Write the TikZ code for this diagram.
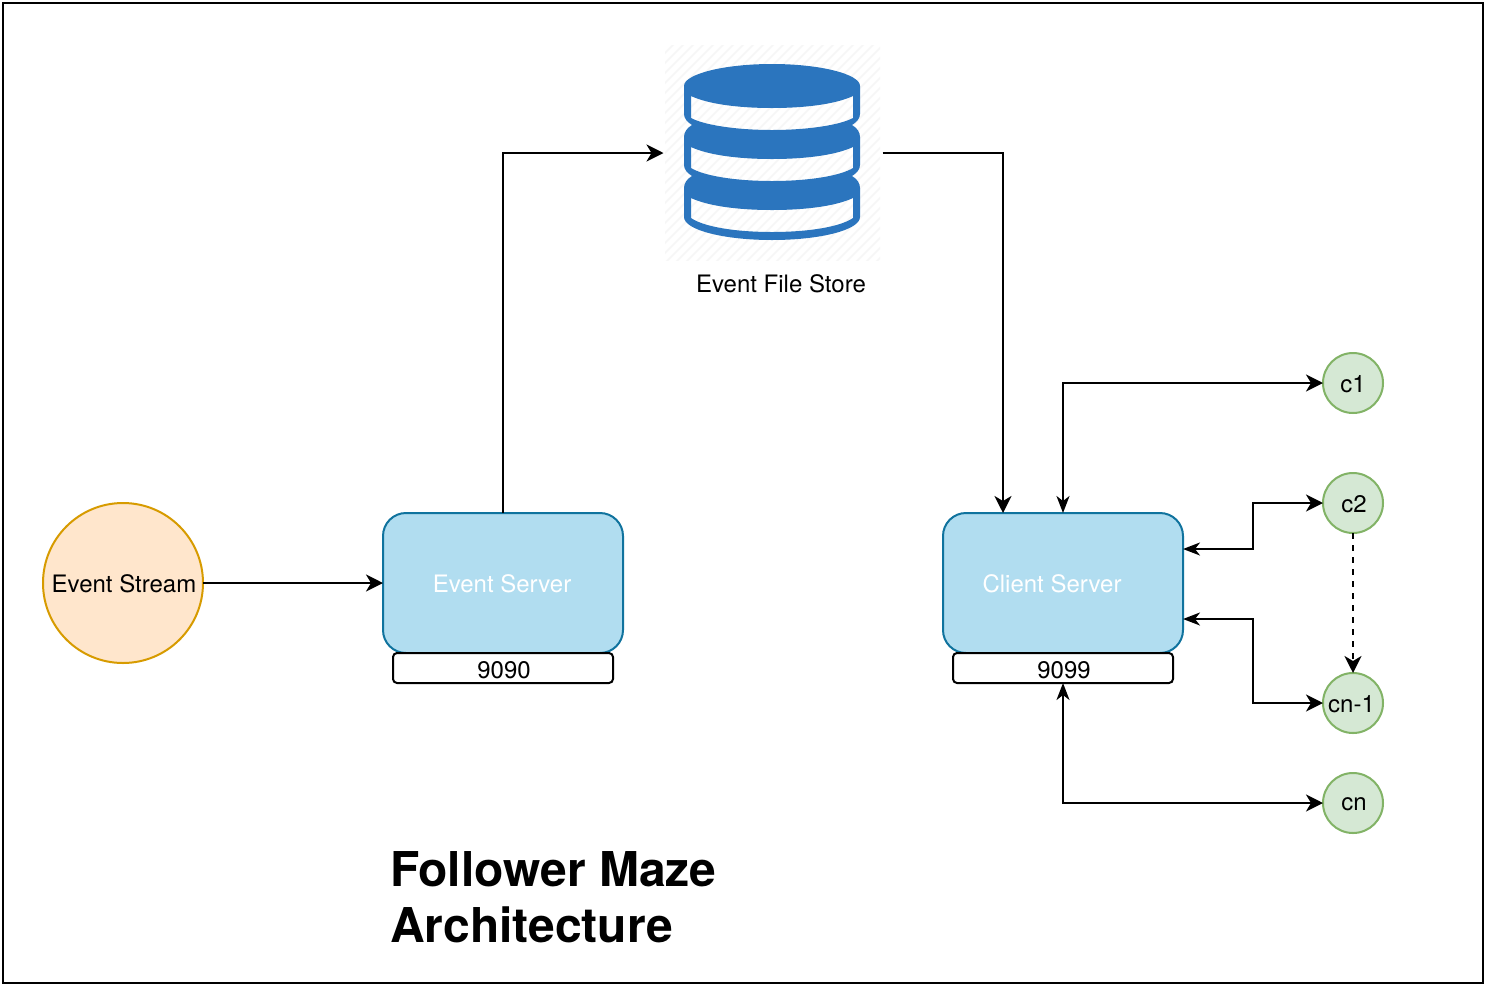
\documentclass[tikz,border=0pt]{standalone}
\usepackage{fontspec}
\setmainfont{TeX Gyre Heros}
\usetikzlibrary{arrows.meta,positioning}
\definecolor{bluefill}{HTML}{B1DDF0}
\definecolor{blueline}{HTML}{10739E}
\definecolor{orangefill}{HTML}{FFE6CC}
\definecolor{orangeline}{HTML}{D79B00}
\definecolor{greenfill}{HTML}{D5E8D4}
\definecolor{greenline}{HTML}{82B366}
\definecolor{dbblue}{HTML}{2B75BE}
\definecolor{hatch}{HTML}{F6F6F6}
\tikzset{
  x=1pt,y=-1pt,
  txt/.style={font=\fontsize{24}{28}\selectfont,text=black,inner sep=0pt,outer sep=0pt},
  server/.style={draw=blueline,fill=bluefill,line width=2pt,rounded corners=23pt,minimum width=240pt,minimum height=140pt,inner sep=0pt,outer sep=0pt},
  port/.style={draw=black,fill=white,line width=2pt,rounded corners=4pt,minimum width=220pt,minimum height=30pt,inner sep=0pt,outer sep=0pt},
  client/.style={circle,draw=greenline,fill=greenfill,line width=2pt,minimum size=60pt,inner sep=0pt,outer sep=0pt},
  conn/.style={draw=black,line width=2pt,-{Stealth[length=17pt,width=17pt,inset=5pt]}},
  biconn/.style={draw=black,line width=2pt,{Stealth[length=17pt,width=13pt,inset=5pt]}-{Stealth[length=17pt,width=17pt,inset=5pt]}},
}
\begin{document}
\begin{tikzpicture}
\useasboundingbox (0,0) rectangle (1486,986);
\fill[white] (0,0) rectangle (1486,986);
\node[draw=black,line width=2pt,minimum width=1480pt,minimum height=980pt,inner sep=0pt,outer sep=0pt] (frame) at (743,493) {};

% database icon
\begin{scope}
\clip (665,45) rectangle (880,260);
\foreach \k in {0,...,44} {
  \draw[hatch,line width=1.6pt] ({664+\k*10},44) -- ({664+\k*10-220},264);
}
\end{scope}
\fill[dbblue,even odd rule]
  (684,86) .. controls (684,74) and (724,64) .. (772,64)
  .. controls (820,64) and (860,74) .. (860,86)
  -- (860,114) .. controls (860,118) and (857,122) .. (852,125)
  .. controls (857,128) and (860,132) .. (860,137)
  -- (860,165) .. controls (860,169) and (857,173) .. (852,176)
  .. controls (857,179) and (860,183) .. (860,188)
  -- (860,217) .. controls (860,230) and (820,240) .. (772,240)
  .. controls (724,240) and (684,230) .. (684,217)
  -- (684,188) .. controls (684,183) and (687,179) .. (692,176)
  .. controls (687,173) and (684,169) .. (684,165)
  -- (684,137) .. controls (684,132) and (687,128) .. (692,125)
  .. controls (687,122) and (684,118) .. (684,114)
  -- cycle
  (691,96) .. controls (708,104) and (738,108) .. (772,108)
  .. controls (806,108) and (836,104) .. (853,96)
  -- (853,118) .. controls (840,125) and (808,130) .. (772,130)
  .. controls (736,130) and (704,125) .. (691,118) -- cycle
  (691,147) .. controls (708,155) and (738,159) .. (772,159)
  .. controls (806,159) and (836,155) .. (853,147)
  -- (853,168) .. controls (840,176) and (808,181) .. (772,181)
  .. controls (736,181) and (704,176) .. (691,168) -- cycle
  (691,198) .. controls (708,206) and (738,210) .. (772,210)
  .. controls (806,210) and (836,206) .. (853,198)
  -- (853,218) .. controls (840,227) and (808,232) .. (772,232)
  .. controls (736,232) and (704,227) .. (691,218) -- cycle;
\node[minimum width=219pt,minimum height=219pt,inner sep=0pt,outer sep=0pt] (db) at (773,153) {};
\node[txt] (dblabel) at (781,284) {Event File Store};

% main nodes
\node[circle,draw=orangeline,fill=orangefill,line width=2pt,minimum size=160pt,inner sep=0pt,outer sep=0pt] (stream) at (123,583) {};
\node[txt] (streamlabel) at (124,584) {Event Stream};
\node[server] (es) at (503,583) {};
\node[txt,text=white] (eslabel) at (502,584) {Event Server};
\node[port] (esport) at (503,668) {};
\node[txt] (esportlabel) at (504,670) {9090};
\node[server] (cs) at (1063,583) {};
\node[txt,text=white] (cslabel) at (1052,584) {Client Server};
\node[port] (csport) at (1063,668) {};
\node[txt] (csportlabel) at (1064,670) {9099};
\node[client] (c1) at (1353,383) {};
\node[txt] (c1label) at (1353,384) {c1};
\node[client] (c2) at (1353,503) {};
\node[txt] (c2label) at (1354,504) {c2};
\node[client] (cn1) at (1353,703) {};
\node[txt] (cn1label) at (1351.5,704) {cn-1};
\node[client] (cn) at (1353,803) {};
\node[txt] (cnlabel) at (1354,804) {cn};

% named ends on the client server
\coordinate (csin) at (1003,513);
\coordinate (csc2) at (1183,549);
\coordinate (cscn1) at (1183,619);

% connectors
\draw[conn] (stream.east) -- (es.west);
\draw[conn] (es.north) |- (db.west);
\draw[conn] (db.east) -| (csin);
\draw[biconn] (cs.north) |- (c1.west);
\draw[biconn] (csc2) -- ++(70,0) |- (c2.west);
\draw[biconn] (cscn1) -- ++(70,0) |- (cn1.west);
\draw[biconn] (csport.south) |- (cn.west);
\draw[conn,dashed,dash pattern=on 6pt off 6pt] (c2.south) -- (cn1.north);

% title
\node[anchor=north west,align=left,inner sep=0pt,outer sep=0pt,font=\fontsize{48}{56}\selectfont\bfseries] (title) at (390,851) {Follower Maze\\Architecture};
\end{tikzpicture}
\end{document}
